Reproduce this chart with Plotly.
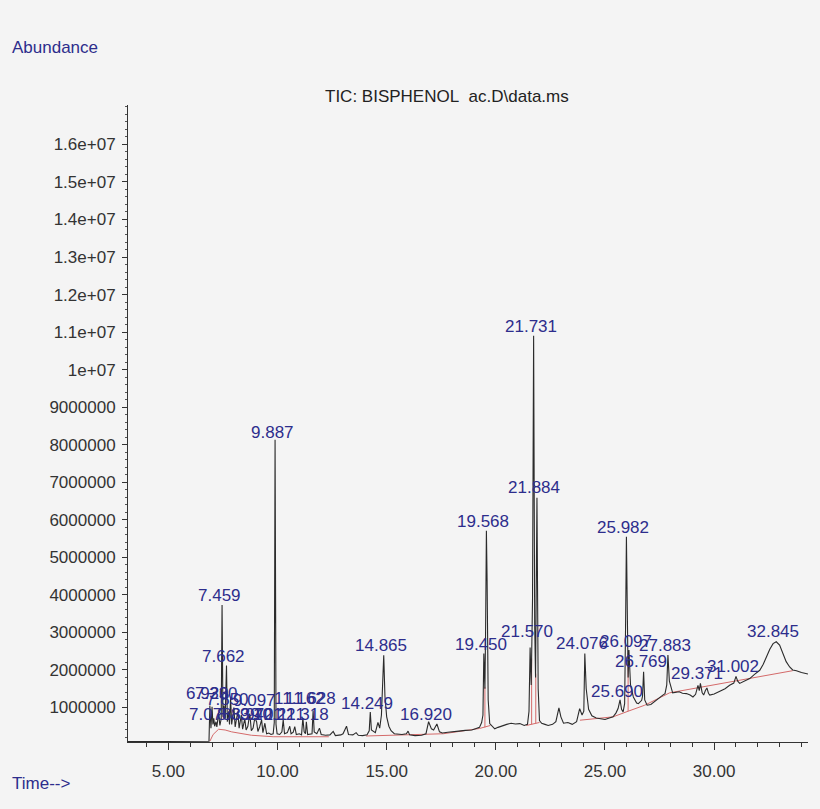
import plotly.graph_objects as go

# Retention time (min) and abundance (millions of counts)
time_min = [
    3.15, 3.60, 3.75, 3.85, 4.50, 5.30, 5.50, 6.00, 6.50, 6.86,
    6.90, 6.95, 7.00, 7.04, 7.08, 7.12, 7.18, 7.22, 7.30, 7.36,
    7.42, 7.459, 7.50, 7.55, 7.60, 7.662, 7.70, 7.76, 7.80, 7.85,
    7.90, 7.95, 8.00, 8.06, 8.12, 8.18, 8.24, 8.30, 8.34, 8.40,
    8.46, 8.50, 8.56, 8.64, 8.73, 8.80, 8.88, 8.96, 9.04, 9.10,
    9.18, 9.27, 9.33, 9.42, 9.50, 9.60, 9.70, 9.80, 9.85, 9.887,
    9.93, 9.98, 10.10, 10.20, 10.26, 10.32, 10.45, 10.56, 10.62, 10.72,
    10.79, 10.86, 11.00, 11.10, 11.16, 11.22, 11.28, 11.32, 11.38, 11.50,
    11.58, 11.63, 11.68, 11.80, 11.92, 12.00, 12.20, 12.40, 12.55, 12.65,
    12.90, 13.00, 13.16, 13.25, 13.45, 13.60, 13.70, 13.90, 14.10, 14.20,
    14.249, 14.30, 14.40, 14.48, 14.60, 14.68, 14.76, 14.865, 14.92, 15.00,
    15.10, 15.20, 15.35, 15.50, 15.70, 15.90, 15.98, 16.05, 16.30, 16.60,
    16.80, 16.92, 17.05, 17.15, 17.30, 17.42, 17.55, 17.80, 18.00, 18.30,
    18.60, 18.90, 19.10, 19.25, 19.35, 19.41, 19.45, 19.50, 19.53, 19.568,
    19.60, 19.65, 19.72, 19.85, 19.95, 20.10, 20.30, 20.50, 20.70, 20.90,
    21.10, 21.30, 21.45, 21.52, 21.57, 21.62, 21.68, 21.731, 21.78, 21.82,
    21.884, 21.94, 22.00, 22.10, 22.25, 22.40, 22.60, 22.75, 22.89, 22.98,
    23.10, 23.30, 23.50, 23.70, 23.84, 23.95, 24.03, 24.076, 24.14, 24.25,
    24.40, 24.60, 24.80, 25.00, 25.20, 25.37, 25.50, 25.60, 25.69, 25.76,
    25.83, 25.90, 25.94, 25.982, 26.03, 26.06, 26.097, 26.17, 26.30, 26.45,
    26.53, 26.62, 26.68, 26.72, 26.769, 26.82, 26.93, 27.10, 27.25, 27.35,
    27.50, 27.65, 27.75, 27.83, 27.883, 27.95, 28.10, 28.25, 28.40, 28.55,
    28.73, 28.90, 29.03, 29.15, 29.26, 29.32, 29.371, 29.45, 29.52, 29.60,
    29.67, 29.74, 29.80, 30.00, 30.25, 30.50, 30.71, 30.90, 31.002, 31.08,
    31.17, 31.40, 31.63, 31.85, 32.09, 32.25, 32.40, 32.55, 32.70, 32.845,
    33.00, 33.15, 33.30, 33.46, 33.60, 33.77, 34.00, 34.30,
]
abundance_m = [
    0.09, 0.09, 0.11, 0.09, 0.09, 0.10, 0.09, 0.09, 0.09, 0.10,
    1.05, 0.45, 1.02, 0.55, 0.71, 0.50, 0.62, 0.48, 0.85, 0.52,
    0.70, 3.73, 0.75, 1.05, 0.70, 2.12, 0.62, 0.90, 0.55, 1.25,
    0.55, 0.80, 1.00, 0.48, 0.70, 0.90, 0.45, 0.65, 0.80, 0.42,
    0.55, 0.70, 0.40, 0.50, 0.84, 0.38, 0.45, 0.72, 0.62, 0.36,
    0.48, 0.67, 0.33, 0.58, 0.30, 0.32, 0.28, 0.30, 0.60, 8.13,
    0.55, 0.30, 0.28, 0.35, 0.67, 0.30, 0.33, 0.50, 0.30, 0.34,
    0.49, 0.28, 0.30, 0.27, 0.72, 0.35, 0.30, 0.62, 0.28, 0.30,
    0.30, 0.92, 0.35, 0.30, 0.45, 0.28, 0.26, 0.27, 0.36, 0.25,
    0.27, 0.30, 0.50, 0.28, 0.27, 0.33, 0.26, 0.25, 0.27, 0.38,
    0.88, 0.40, 0.36, 0.33, 0.60, 0.45, 0.80, 2.39, 1.30, 0.75,
    0.50, 0.38, 0.30, 0.29, 0.28, 0.30, 0.37, 0.27, 0.25, 0.26,
    0.30, 0.62, 0.43, 0.40, 0.56, 0.35, 0.32, 0.34, 0.36, 0.37,
    0.39, 0.40, 0.44, 0.47, 0.60, 0.80, 2.44, 1.50, 3.00, 5.71,
    4.40, 1.20, 0.57, 0.48, 0.43, 0.47, 0.52, 0.55, 0.58, 0.56,
    0.57, 0.52, 0.55, 0.90, 2.60, 1.60, 3.85, 10.90, 3.20, 1.80,
    6.59, 1.50, 0.65, 0.58, 0.55, 0.52, 0.55, 0.62, 0.99, 0.75,
    0.58, 0.60, 0.55, 0.62, 0.97, 0.80, 0.90, 2.44, 1.50, 0.95,
    0.78, 0.72, 0.70, 0.68, 0.72, 0.75, 0.85, 0.97, 1.20, 0.95,
    0.88, 1.10, 3.00, 5.55, 3.20, 1.80, 2.53, 1.60, 1.28, 1.12,
    1.10, 1.15, 1.19, 1.30, 1.95, 1.20, 1.06, 1.08, 1.15, 1.19,
    1.28, 1.33, 1.37, 1.60, 2.40, 1.70, 1.39, 1.40, 1.42, 1.38,
    1.37, 1.33, 1.28, 1.35, 1.59, 1.45, 1.64, 1.40, 1.33, 1.45,
    1.52, 1.38, 1.33, 1.36, 1.42, 1.50, 1.59, 1.65, 1.83, 1.70,
    1.64, 1.70, 1.77, 1.88, 1.99, 2.15, 2.35, 2.55, 2.70, 2.75,
    2.66, 2.44, 2.22, 2.08, 2.00, 1.98, 1.93, 1.89,
]

# Integration baselines / drop lines (red), segments separated by None
baseline_time = [
    6.90, 7.05, 7.30, 7.60, 7.90, 8.40, 8.80, 9.80, 12.35, None,
    14.05, 15.40, 16.80, 17.60, 19.25, 19.50, 19.75, None,
    19.50, 19.50, None,
    21.40, 21.64, 21.83, 22.00, None,
    21.64, 21.64, None,
    21.83, 21.83, None,
    23.85, 25.37, 26.06, 26.82, 27.96, 33.60, None,
    26.06, 26.06,
]
baseline_abund_m = [
    0.10, 0.28, 0.42, 0.40, 0.35, 0.30, 0.26, 0.22, 0.22, None,
    0.24, 0.26, 0.28, 0.30, 0.44, 0.47, 0.52, None,
    0.47, 1.55, None,
    0.52, 0.55, 0.57, 0.60, None,
    0.55, 2.30, None,
    0.57, 1.90, None,
    0.66, 0.75, 0.90, 1.06, 1.39, 1.98, None,
    0.90, 2.45,
]

# Peak labels (retention time text), x position and label anchor height
peak_labels = [
    "6.920", "7.330", "7.078", "7.459", "7.662", "7.850", "9.097",
    "8.339", "8.970", "9.421", "10.221", "11.318", "9.887", "11.162", "11.628",
    "14.249", "14.865", "16.920", "19.450", "19.568", "21.570", "21.731",
    "21.884", "24.076", "25.690", "25.982", "26.097", "26.769", "27.883",
    "29.371", "31.002", "32.845",
]
label_rt = [
    6.920, 7.330, 7.078, 7.459, 7.662, 7.850, 9.097,
    8.339, 8.970, 9.421, 10.221, 11.318, 9.887, 11.162, 11.628,
    14.249, 14.865, 16.920, 19.450, 19.568, 21.570, 21.731,
    21.884, 24.076, 25.690, 25.982, 26.097, 26.769, 27.883,
    29.371, 31.002, 32.845,
]
label_top_m = [
    1.16, 1.16, 0.62, 3.78, 2.15, 1.00, 0.98,
    0.62, 0.62, 0.62, 0.62, 0.62, 8.13, 1.03, 1.03,
    0.90, 2.45, 0.61, 2.47, 5.75, 2.82, 10.95,
    6.66, 2.50, 1.23, 5.60, 2.55, 2.02, 2.46,
    1.70, 1.89, 2.83,
]

# Axis ticks
y_tick_vals = [1, 2, 3, 4, 5, 6, 7, 8, 9, 10, 11, 12, 13, 14, 15, 16]
y_tick_text = [
    "1000000", "2000000", "3000000", "4000000", "5000000", "6000000",
    "7000000", "8000000", "9000000", "1e+07", "1.1e+07", "1.2e+07",
    "1.3e+07", "1.4e+07", "1.5e+07", "1.6e+07",
]
x_tick_vals = [5, 10, 15, 20, 25, 30]
x_tick_text = ["5.00", "10.00", "15.00", "20.00", "25.00", "30.00"]

FONT = "Liberation Sans, Arial, Helvetica, sans-serif"
NAVY = "#2d2d8c"
BG = "#f4f4f4"

fig = go.Figure()
fig.add_trace(go.Scatter(
    x=baseline_time, y=baseline_abund_m, mode="lines",
    line=dict(color="#d46a6a", width=1), connectgaps=False,
    hoverinfo="skip", showlegend=False,
))
fig.add_trace(go.Scatter(
    x=time_min, y=abundance_m, mode="lines",
    line=dict(color="#2b2b2b", width=1.1), showlegend=False,
))

for txt, rt, top in zip(peak_labels, label_rt, label_top_m):
    fig.add_annotation(
        x=rt, y=top, text=txt, showarrow=False, xanchor="center",
        yanchor="bottom", xshift=-3, yshift=-4,
        font=dict(family=FONT, size=17, color=NAVY),
    )

fig.add_annotation(
    xref="paper", yref="paper", x=0.469, y=1.0126, text="TIC: BISPHENOL\u00a0\u00a0ac.D\\data.ms",
    showarrow=False, xanchor="center", yanchor="middle",
    font=dict(family=FONT, size=17, color="#222222"),
)
fig.add_annotation(
    xref="paper", yref="paper", x=-0.1735, y=1.091, text="Abundance",
    showarrow=False, xanchor="left", yanchor="middle",
    font=dict(family=FONT, size=17, color=NAVY),
)
fig.add_annotation(
    xref="paper", yref="paper", x=-0.1735, y=-0.0659, text="Time-->",
    showarrow=False, xanchor="left", yanchor="middle",
    font=dict(family=FONT, size=17, color=NAVY),
)

fig.update_layout(
    width=820, height=809,
    margin=dict(l=128, r=12, t=105, b=67),
    paper_bgcolor=BG, plot_bgcolor=BG,
    showlegend=False,
    font=dict(family=FONT, size=16, color="#3a3a3a"),
    xaxis=dict(
        range=[3.15, 34.3], showgrid=False, zeroline=False,
        showline=True, linecolor="#333333", linewidth=1,
        tickmode="array", tickvals=x_tick_vals, ticktext=x_tick_text,
        ticks="outside", ticklen=7, tickcolor="#333333",
        ticklabelstandoff=7,
        minor=dict(dtick=1, ticks="outside", ticklen=4, tickcolor="#333333"),
        tickfont=dict(family=FONT, size=17, color="#333333"),
    ),
    yaxis=dict(
        range=[0.08, 17.05], showgrid=False, zeroline=False,
        showline=True, linecolor="#333333", linewidth=1,
        tickmode="array", tickvals=y_tick_vals, ticktext=y_tick_text,
        ticks="outside", ticklen=5, tickcolor="#333333",
        ticklabelstandoff=3,
        minor=dict(dtick=0.2, ticks="outside", ticklen=2, tickcolor="#555555"),
        tickfont=dict(family=FONT, size=17, color="#333333"),
    ),
)

fig.write_html("out.html")
